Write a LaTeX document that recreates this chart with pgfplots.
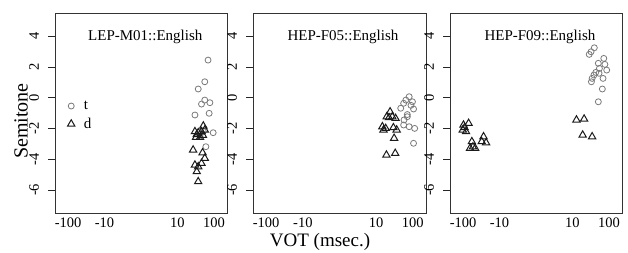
\documentclass[border=0pt]{standalone}
\usepackage{fontspec}
\setmainfont{Liberation Serif}
\usepackage{pgfplots}
\pgfplotsset{compat=1.18}
\definecolor{tgray}{HTML}{7A7A7A}
\definecolor{dblack}{HTML}{1A1A1A}
\tikzset{ptitle/.style={font=\fontsize{15}{18}\selectfont, anchor=base}}
\pgfplotsset{
  panel/.style={
    scale only axis, width=172pt, height=200pt,
    xmin=-2.36, xmax=2.36, ymin=-7.5, ymax=5.5,
    xtick={-2,-1,1,2}, xticklabels={-100,-10,10,100},
    ytick={-6,-4,-2,0,2,4},
    ytick pos=left, xtick pos=bottom,
    tick align=outside, major tick length=7pt,
    x tick style={draw=none},
    y tick style={line width=0.7pt, color=black!85},
    tick label style={font=\fontsize{14.5}{17}\selectfont},
    xticklabel style={yshift=6pt},
    yticklabel style={xshift=-5.5pt, rotate=90, anchor=south},
    /pgf/number format/assume math mode=true,
    axis line style={line width=0.9pt, color=black!80},
    clip=false,
  },
  tmark/.style={only marks, mark=o, mark size=3pt, color=tgray, mark options={line width=0.8pt}},
  dmark/.style={only marks, mark=triangle, mark size=4.2pt, color=dblack, mark options={line width=1pt}},
}
\begin{document}
\begin{tikzpicture}
\useasboundingbox (0,0) rectangle (628pt,252pt);
% Panel 1
\begin{axis}[panel, at={(55pt,39pt)},
  legend style={at={(axis cs:-2.02,0.05)}, anchor=north west, draw=none, fill=none,
    font=\fontsize{15}{18}\selectfont, row sep=3pt, column sep=7pt, inner xsep=0pt},
  legend image code/.code={\draw[#1] plot coordinates {(0pt,0pt)};},
  legend cell align=left]
\addplot[tmark] coordinates {(1.84,2.44)(1.75,1.03)(1.57,0.56)(1.75,-0.16)(1.89,-0.33)(1.66,-0.42)(1.48,-1.13)(1.87,-1.02)(1.98,-2.28)(1.78,-3.19)(1.71,-2.2)(1.62,-2.5)};
\addlegendentry{t}
\addplot[dmark] coordinates {(1.71,-1.84)(1.48,-2.21)(1.57,-2.28)(1.66,-2.21)(1.75,-2.1)(1.51,-2.58)(1.62,-2.58)(1.43,-3.40)(1.69,-3.58)(1.75,-3.94)(1.48,-4.38)(1.57,-4.49)(1.66,-4.27)(1.53,-4.81)(1.57,-5.46)(1.53,-2.4)(1.7,-2.45)};
\addlegendentry{d}
\node[ptitle] at (rel axis cs:0.525,0.8625) {LEP-M01::English};
\end{axis}
% Panel 2
\begin{axis}[panel, at={(253pt,39pt)}, width=173pt]
\addplot[tmark] coordinates {(1.90,0.06)(1.81,-0.16)(1.75,-0.37)(1.99,-0.27)(1.67,-0.69)(2.02,-0.74)(1.85,-1.24)(1.76,-1.45)(1.75,-1.78)(1.90,-1.89)(2.05,-2.0)(2.02,-2.97)(1.85,-1.1)(1.95,-0.5)};
\addplot[dmark] coordinates {(1.38,-0.92)(1.29,-1.24)(1.44,-1.24)(1.53,-1.35)(1.17,-1.89)(1.26,-2.0)(1.47,-1.95)(1.56,-2.1)(1.49,-2.64)(1.28,-3.73)(1.52,-3.62)(1.2,-2.1)(1.35,-1.3)};
\node[ptitle] at (rel axis cs:0.52,0.8625) {HEP-F05::English};
\end{axis}
% Panel 3
\begin{axis}[panel, at={(450pt,39pt)}]
\addplot[tmark] coordinates {(1.60,3.24)(1.51,2.98)(1.46,2.81)(1.86,2.55)(1.71,2.23)(1.89,2.16)(1.74,1.90)(1.94,1.79)(1.64,1.64)(1.73,1.58)(1.59,1.47)(1.54,1.25)(1.84,1.25)(1.52,1.03)(1.82,0.56)(1.71,-0.27)};
\addplot[dmark] coordinates {(-1.99,-1.78)(-1.85,-1.67)(-2.01,-2.1)(-1.92,-2.21)(-1.96,-1.95)(-1.76,-2.86)(-1.81,-3.29)(-1.67,-3.29)(-1.73,-3.2)(-1.44,-2.54)(-1.49,-2.86)(-1.37,-2.93)(1.11,-1.45)(1.32,-1.39)(1.28,-2.43)(1.54,-2.54)};
\node[ptitle] at (rel axis cs:0.523,0.8625) {HEP-F09::English};
\end{axis}
\node[rotate=90, font=\fontsize{20}{24}\selectfont] at (21pt,131pt) {Semitone};
\node[anchor=base, font=\fontsize{19}{23}\selectfont] at (320pt,6pt) {VOT (msec.)};
\end{tikzpicture}
\end{document}
